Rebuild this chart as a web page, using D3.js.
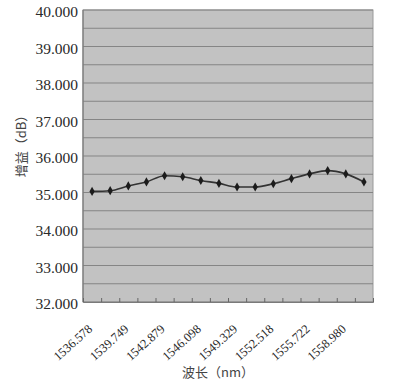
<!DOCTYPE html>
<html>
<head>
<meta charset="utf-8">
<script src="https://cdn.jsdelivr.net/npm/d3@7"></script>
<style>
    body { margin: 0; background: #fff; }
    .yAxis text, .xAxis text { font-family: 'Liberation Serif', 'Times New Roman', serif; fill: #2a2a2a; }
    .title { font-family: 'Noto Sans CJK SC', 'Liberation Serif', serif; fill: #444; }
</style>
</head>
<body>
<svg id="gain-chart" width="403" height="388"></svg>
<script>
// 16 measured points, only every second wavelength is printed on the axis
const pointIndex = d3.range(16);
const gainValues = [35.03, 35.05, 35.18, 35.29, 35.46, 35.43, 35.33, 35.25,
                    35.15, 35.15, 35.24, 35.38, 35.51, 35.60, 35.51, 35.29];
const wavelengthLabels = ['1536.578', '1539.749', '1542.879', '1546.098',
                          '1549.329', '1552.518', '1555.722', '1558.980'];
const labelIndex = [0, 2, 4, 6, 8, 10, 12, 14];
const yTicks = [32, 33, 34, 35, 36, 37, 38, 39, 40];
const gridValues = d3.range(32, 40.01, 0.5);

const margin = { top: 10, right: 30, left: 83, bottom: 86 };
const width = 403 - margin.left - margin.right;
const height = 388 - margin.top - margin.bottom;

const svg = d3.select('#gain-chart');
const g = svg.append('g')
    .attr('transform', `translate(${margin.left}, ${margin.top})`);

const xScale = d3.scaleBand()
    .domain(pointIndex)
    .range([0, width])
    .padding(0);

// boundaries between categories, for the small tick marks
const edgeScale = d3.scaleLinear()
    .domain([0, pointIndex.length])
    .range([0, width]);

const yScale = d3.scaleLinear()
    .domain([32, 40])
    .range([height, 0]);

// plot area
g.append('rect')
    .attr('width', width)
    .attr('height', height)
    .attr('fill', '#c2c2c2')
    .attr('stroke', '#9a9a9a');

g.selectAll('.grid')
    .data(gridValues)
    .enter()
    .append('line')
    .classed('grid', true)
    .attr('x1', 0)
    .attr('x2', width)
    .attr('y1', d => yScale(d))
    .attr('y2', d => yScale(d))
    .attr('stroke', '#858585')
    .attr('stroke-width', 1);

g.append('line')
    .attr('x1', 0).attr('x2', 0)
    .attr('y1', 0).attr('y2', height)
    .attr('stroke', '#7a7a7a')
    .attr('stroke-width', 1.2);

const yAxis = d3.axisLeft(yScale)
    .tickValues(yTicks)
    .tickSize(0)
    .tickPadding(5)
    .tickFormat(d3.format('.3f'));

g.append('g')
    .attr('class', 'yAxis')
    .call(yAxis)
    .call(a => a.select('.domain').remove())
    .selectAll('text')
    .attr('font-size', 15.5)
    .attr('dy', '0.45em');

// tick marks pointing up into the plot
g.append('g')
    .attr('class', 'edgeAxis')
    .attr('transform', `translate(0,${height})`)
    .call(d3.axisBottom(edgeScale).ticks(16).tickSize(-4).tickFormat(''))
    .call(a => a.select('.domain').attr('stroke', '#7a7a7a'))
    .call(a => a.selectAll('line').attr('stroke', '#666'));

const xAxis = d3.axisBottom(xScale)
    .tickValues(labelIndex)
    .tickSize(0)
    .tickFormat(d => wavelengthLabels[labelIndex.indexOf(d)]);

g.append('g')
    .attr('class', 'xAxis')
    .attr('transform', `translate(0,${height})`)
    .call(xAxis)
    .call(a => a.select('.domain').remove())
    .selectAll('text')
    .attr('font-size', 12.5)
    .attr('text-anchor', 'end')
    .attr('dy', 0)
    .attr('y', 0)
    .attr('transform', 'translate(1, 28) rotate(-42)');

// the gain curve
const line = d3.line()
    .x(d => xScale(d) + xScale.bandwidth() / 2)
    .y(d => yScale(gainValues[d]))
    .curve(d3.curveMonotoneX);

g.append('path')
    .datum(pointIndex)
    .attr('fill', 'none')
    .attr('stroke', '#333')
    .attr('stroke-width', 1.6)
    .attr('d', line);

g.selectAll('.marker')
    .data(pointIndex)
    .enter()
    .append('path')
    .classed('marker', true)
    .attr('d', d3.symbol(d3.symbolDiamond, 24))
    .attr('transform', d => `translate(${xScale(d) + xScale.bandwidth() / 2}, ${yScale(gainValues[d])})`)
    .attr('fill', '#1c1c1c');

// axis titles
svg.append('text')
    .attr('class', 'title')
    .attr('text-anchor', 'middle')
    .attr('transform', 'translate(26, 143) rotate(-90)')
    .attr('font-size', 13)
    .text('增益（dB）');

svg.append('text')
    .attr('class', 'title')
    .attr('text-anchor', 'middle')
    .attr('x', 218)
    .attr('y', 377)
    .attr('font-size', 13)
    .text('波长（nm）');
</script>
</body>
</html>
